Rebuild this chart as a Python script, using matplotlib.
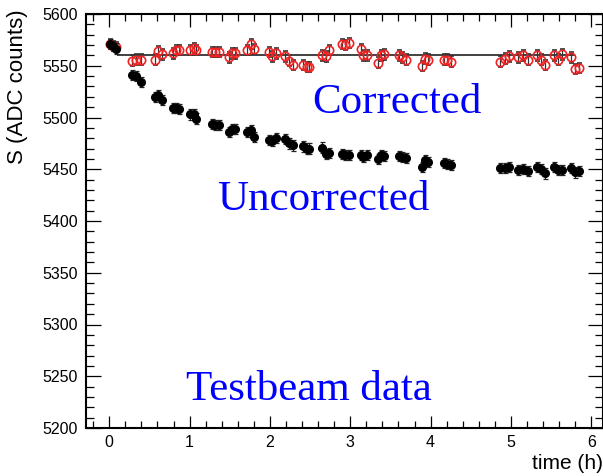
import matplotlib
matplotlib.use("Agg")
import matplotlib.pyplot as plt
from matplotlib.ticker import MultipleLocator

# time of each measurement (h)
times = [0.01, 0.04, 0.08, 0.28, 0.33, 0.39, 0.57, 0.61, 0.65,
         0.79, 0.83, 0.87, 1.01, 1.05, 1.08, 1.28, 1.32, 1.36,
         1.49, 1.53, 1.57, 1.72, 1.76, 1.80, 1.99, 2.02, 2.07,
         2.19, 2.24, 2.29, 2.41, 2.46, 2.49, 2.65, 2.70, 2.74,
         2.90, 2.94, 2.98, 3.13, 3.16, 3.21, 3.34, 3.38, 3.42,
         3.61, 3.64, 3.69, 3.89, 3.93, 3.97, 4.17, 4.21, 4.26,
         4.86, 4.92, 4.97, 5.09, 5.15, 5.21, 5.33, 5.38, 5.42,
         5.54, 5.59, 5.63, 5.75, 5.80, 5.85]

uncorrected = [5571, 5569, 5566.5, 5541, 5540, 5534, 5520, 5522, 5517,
               5509, 5509, 5508, 5503, 5503, 5499, 5494, 5493, 5493,
               5486, 5489, 5489, 5486, 5488, 5481, 5478, 5477, 5480,
               5479, 5475, 5473, 5472, 5470, 5470, 5471, 5465, 5466,
               5465, 5464, 5464, 5464, 5462, 5464, 5460, 5464, 5463,
               5463, 5462, 5461, 5452, 5459, 5457, 5456, 5455, 5454,
               5451, 5451, 5452, 5449, 5450, 5448, 5452, 5450, 5446,
               5452, 5449, 5449, 5451, 5447, 5448]

corrected = [5571, 5569, 5568, 5555, 5556, 5556, 5556, 5564, 5561,
             5562, 5565, 5565, 5565, 5567, 5565, 5563, 5563, 5563,
             5558, 5562, 5562, 5565, 5571, 5566, 5563, 5559, 5562,
             5559, 5555, 5551, 5551, 5549, 5549, 5560, 5559, 5565,
             5571, 5570, 5572, 5566, 5560, 5560, 5553, 5560, 5561,
             5560, 5558, 5556, 5550, 5557, 5556, 5556, 5556, 5554,
             5554, 5557, 5559, 5558, 5560, 5556, 5560, 5556, 5551,
             5560, 5556, 5561, 5558, 5547, 5548]

err = 5.0  # error on S (ADC counts)

# constant fit of the corrected points
fit_level = 5560
fit_tmin, fit_tmax = 0.09, 5.80

fig = plt.figure(figsize=(6.03, 4.76), dpi=100)
ax = fig.add_axes([86 / 603, 1 - 428 / 476, 516.5 / 603, 414 / 476])

ax.hlines(fit_level, fit_tmin, fit_tmax, color='#333333', lw=1.3, zorder=2)

# corrected : open red circles
ax.errorbar(times, corrected, yerr=err, fmt='o', ms=6, mfc='none',
            mec='#ee2222', mew=1.2, ecolor='#333333', elinewidth=0.9,
            capsize=1.8, capthick=0.9, zorder=3)
# uncorrected : filled black circles
ax.errorbar(times, uncorrected, yerr=err, fmt='o', ms=5.5, mfc='black',
            mec='black', ecolor='#222222', elinewidth=0.9,
            capsize=1.8, capthick=0.9, zorder=4)

ax.set_xlim(-0.29, 6.14)
ax.set_ylim(5200, 5600)

ax.xaxis.set_major_locator(MultipleLocator(1))
ax.xaxis.set_minor_locator(MultipleLocator(0.2))
ax.yaxis.set_major_locator(MultipleLocator(50))
ax.yaxis.set_minor_locator(MultipleLocator(10))

ax.tick_params(which='both', direction='in', top=True, right=True,
               width=0.9, labelsize=11.5)
ax.tick_params(axis='x', which='major', length=9, pad=5)
ax.tick_params(axis='x', which='minor', length=5)
ax.tick_params(axis='y', which='major', length=11, pad=6)
ax.tick_params(axis='y', which='minor', length=5.5)
for lab in ax.get_xticklabels() + ax.get_yticklabels():
    lab.set_family('Liberation Sans')
for sp in ax.spines.values():
    sp.set_linewidth(1.5)

ax.set_ylabel('S (ADC counts)', loc='top', fontsize=16, family='Liberation Sans')
ax.yaxis.set_label_coords(-0.112, 1.01)
ax.set_xlabel('time (h)', loc='right', fontsize=15, family='Liberation Sans')
ax.xaxis.set_label_coords(1.0, -0.062)

txt = dict(family='Liberation Serif', fontsize=31, color='blue', va='baseline', ha='left')
ax.text(0.4376, 0.7616, 'Corrected', transform=ax.transAxes, **txt)
ax.text(0.2536, 0.5266, 'Uncorrected', transform=ax.transAxes, **txt)
ax.text(0.1936, 0.0676, 'Testbeam data', transform=ax.transAxes, **txt)

fig.savefig('out.png', dpi=100)
